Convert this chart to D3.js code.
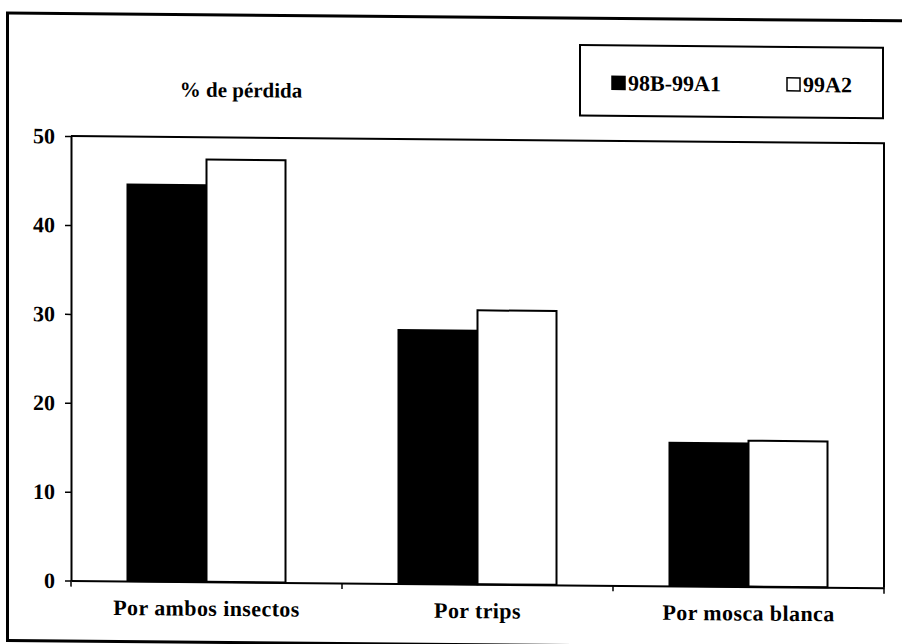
<!DOCTYPE html>
<html lang="es">
<head>
    <meta charset="utf-8">
    <title>% de pérdida</title>
    <script type="text/javascript" src="https://cdn.jsdelivr.net/npm/d3@7/dist/d3.min.js"></script>
    <style type="text/css">
        body { margin: 0; background: #fff; }
    </style>
</head>
<body>
    <script type="text/javascript">

        //Data
        var categories = ["Por ambos insectos", "Por trips", "Por mosca blanca"];
        var seriesNames = ["98B-99A1", "99A2"];
        var values98B = [44.6, 28.5, 16.1];
        var values99A2 = [47.5, 30.8, 16.4];
        var yTicks = [0, 10, 20, 30, 40, 50];
        var yTitle = "% de pérdida";

        var w = 902;
        var h = 644;
        var serif = "'Liberation Serif', 'Times New Roman', Times, 'DejaVu Serif', serif";

        //Plot area
        var plotLeft = 71, plotRight = 884, plotTop = 135.5, plotBottom = 580;

        var svg = d3.select("body")
            .append("svg")
            .attr("width", w)
            .attr("height", h);

        //the scan is slightly skewed: horizontal lines drop to the right
        var g = svg.append("g").attr("transform", "skewY(0.5)");

        //outer frame
        g.append("rect")
            .attr("x", 7.5).attr("y", 13)
            .attr("width", 905).attr("height", 627.5)
            .attr("fill", "none").attr("stroke", "#000").attr("stroke-width", 3);

        var x0 = d3.scaleBand()
            .domain(categories)
            .range([plotLeft, plotRight])
            .padding(0);

        var x1 = d3.scaleBand()
            .domain(seriesNames)
            .range([0, x0.bandwidth()])
            .paddingInner(0)
            .paddingOuter(0.715);

        var y = d3.scaleLinear()
            .domain([0, 50])
            .range([plotBottom, plotTop]);

        var color = d3.scaleOrdinal()
            .domain(seriesNames)
            .range(["#000", "#fff"]);

        //rows for the grouped bars
        var rows = categories.map(function (c, i) {
            return { cat: c, vals: [values98B[i], values99A2[i]] };
        });

        //plot frame (top and right sides)
        g.append("path")
            .attr("d", "M" + plotLeft + "," + plotTop + "H" + plotRight + "V" + plotBottom)
            .attr("fill", "none").attr("stroke", "#000").attr("stroke-width", 2);

        //bars
        g.selectAll("g.grp")
            .data(rows)
            .enter()
            .append("g")
            .attr("class", "grp")
            .attr("transform", function (d) { return "translate(" + x0(d.cat) + ",0)"; })
            .selectAll("rect")
            .data(function (d) {
                return d.vals.map(function (v, j) { return { s: seriesNames[j], v: v }; });
            })
            .enter()
            .append("rect")
            .attr("x", function (d) { return x1(d.s); })
            .attr("y", function (d) { return y(d.v); })
            .attr("width", x1.bandwidth())
            .attr("height", function (d) { return plotBottom - y(d.v); })
            .attr("fill", function (d) { return color(d.s); })
            .attr("stroke", "#000")
            .attr("stroke-width", 2);

        //y axis
        var yAxis = g.append("g")
            .attr("transform", "translate(" + plotLeft + ",0)")
            .call(d3.axisLeft(y).tickValues(yTicks).tickSize(6).tickPadding(10).tickSizeOuter(0));
        yAxis.select(".domain").attr("stroke-width", 2);
        yAxis.selectAll(".tick line").attr("stroke-width", 1.5);
        yAxis.selectAll("text").style("font-size", "22px");

        //x axis
        var xAxis = g.append("g")
            .attr("transform", "translate(0," + plotBottom + ")")
            .call(d3.axisBottom(x0).tickSize(0).tickSizeOuter(0));
        xAxis.select(".domain").attr("stroke-width", 2);
        xAxis.selectAll("text")
            .attr("y", 34).attr("dy", 0)
            .style("font-size", "22px")
            .style("letter-spacing", "0.4px");

        //ticks between the categories
        var edges = categories.map(function (c) { return x0(c); }).concat([plotRight]);
        g.selectAll("line.xtick")
            .data(edges)
            .enter()
            .append("line")
            .attr("class", "xtick")
            .attr("x1", function (d) { return d; }).attr("x2", function (d) { return d; })
            .attr("y1", plotBottom).attr("y2", plotBottom + 6)
            .attr("stroke", "#000").attr("stroke-width", 1.5);

        //axis title
        g.append("text")
            .attr("x", 241).attr("y", 95)
            .attr("text-anchor", "middle")
            .style("font-size", "21px")
            .text(yTitle);

        //legend
        var lg = g.append("g");
        lg.append("rect")
            .attr("x", 580).attr("y", 40)
            .attr("width", 303).attr("height", 70.5)
            .attr("fill", "#fff").attr("stroke", "#000").attr("stroke-width", 2);

        var legendX = [612, 787];
        var items = lg.selectAll("g.item")
            .data(seriesNames)
            .enter()
            .append("g")
            .attr("class", "item")
            .attr("transform", function (d, i) { return "translate(" + legendX[i] + ",0)"; });

        items.append("rect")
            .attr("x", 0).attr("y", 71)
            .attr("width", 13).attr("height", 13)
            .attr("fill", function (d) { return color(d); })
            .attr("stroke", "#000").attr("stroke-width", 1.5);

        items.append("text")
            .attr("x", 16).attr("y", 85)
            .style("font-size", "22px")
            .text(function (d) { return d; });

        //all texts in bold serif
        svg.selectAll("text")
            .style("font-family", serif)
            .style("font-weight", "bold")
            .attr("fill", "#000");

    </script>
</body>
</html>
